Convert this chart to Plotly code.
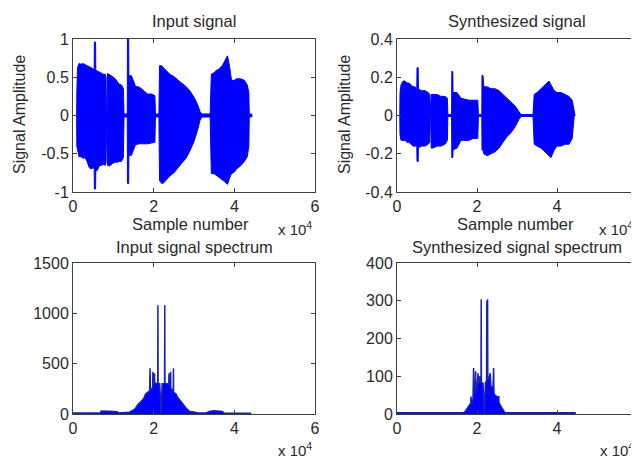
import plotly.graph_objects as go

# ---------------- data ----------------
# Input signal: envelope of the waveform (sample index, upper, lower)
in_x = [0, 900, 950, 1100, 1500, 2000, 2500, 3000, 3500, 4000, 4500, 5000, 5250, 5300, 5600, 5650,
        6000, 6500, 7000, 7500, 8000, 8200, 8300, 8450, 8550, 9000, 9500, 10000, 10500, 11000,
        11500, 12000, 12500, 12650, 13450, 13500, 13800, 13850, 14500, 15000, 15500, 16500, 17500,
        18500, 19500, 20300, 20450, 21300, 21450, 22000, 22500, 23000, 24000, 25000, 26000,
        27000, 28000, 29000, 30000, 31000, 31500, 32000, 34000, 34300, 35000, 35500, 36000,
        37000, 37500, 38300, 38800, 39300, 40000, 40500, 41500, 42500, 43200, 43600, 43700,
        44300, 44400]
in_upper = [0, 0, 0.28, 0.62, 0.68, 0.67, 0.68, 0.66, 0.65, 0.64, 0.62, 0.60, 0.60, 0.96, 0.96, 0.60,
            0.58, 0.57, 0.55, 0.54, 0.54, 0.50, 0.02, 0.02, 0.55, 0.54, 0.52, 0.50, 0.48, 0.44,
            0.41, 0.40, 0.35, 0.02, 0.02, 1.00, 1.00, 0.52, 0.52, 0.45, 0.38, 0.37, 0.33,
            0.28, 0.28, 0.26, 0.02, 0.02, 0.65, 0.65, 0.62, 0.59, 0.54, 0.51, 0.46,
            0.42, 0.38, 0.32, 0.24, 0.13, 0.05, 0.02, 0.02, 0.54, 0.56, 0.59, 0.60,
            0.65, 0.70, 0.78, 0.65, 0.46, 0.46, 0.48, 0.48, 0.46, 0.40, 0.30, 0.02,
            0.02, 0]
in_lower = [0, 0, -0.40, -0.46, -0.54, -0.54, -0.56, -0.55, -0.60, -0.68, -0.70, -0.68, -0.70, -0.96, -0.96, -0.72,
            -0.72, -0.66, -0.65, -0.64, -0.65, -0.60, -0.02, -0.02, -0.65, -0.66, -0.64, -0.62, -0.61, -0.61,
            -0.60, -0.60, -0.55, -0.02, -0.02, -0.89, -0.89, -0.52, -0.52, -0.45, -0.38, -0.37, -0.37,
            -0.37, -0.36, -0.35, -0.02, -0.02, -0.85, -0.89, -0.88, -0.85, -0.79, -0.75, -0.69,
            -0.62, -0.56, -0.46, -0.34, -0.17, -0.06, -0.02, -0.02, -0.76, -0.76, -0.78, -0.80,
            -0.84, -0.86, -0.90, -0.82, -0.76, -0.74, -0.70, -0.66, -0.60, -0.54, -0.40, -0.02,
            -0.02, 0]

# Synthesized signal: envelope of the waveform
syn_x = [0, 700, 750, 1000, 1500, 2000, 2500, 3000, 3500, 4000, 4500, 4950, 5000, 5300, 5350, 6000,
         7000, 7800, 8200, 8300, 8450, 8550, 9000, 10000, 11000, 12000, 12600, 12700, 13650,
         13700, 13950, 14000, 15000, 16000, 17000, 18000, 19000, 20200, 20350, 21200, 21250, 21500, 21700,
         22500, 23500, 24500, 25500, 26500, 27500, 28500, 29500, 30500, 31000, 34000, 34300,
         35000, 36000, 37000, 38000, 38500, 39300, 40000, 41000, 42000, 43000, 43800, 44300, 44500]
syn_upper = [0, 0, 0.12, 0.16, 0.18, 0.18, 0.17, 0.17, 0.16, 0.15, 0.15, 0.14, 0.25, 0.25, 0.14, 0.13,
             0.13, 0.12, 0.11, 0.005, 0.005, 0.11, 0.11, 0.11, 0.10, 0.10, 0.09, 0.005, 0.005,
             0.23, 0.23, 0.12, 0.12, 0.09, 0.085, 0.08, 0.08, 0.08, 0.005, 0.005, 0.21, 0.21, 0.15,
             0.15, 0.14, 0.14, 0.13, 0.11, 0.09, 0.07, 0.05, 0.02, 0.005, 0.005, 0.11,
             0.12, 0.14, 0.16, 0.18, 0.16, 0.13, 0.12, 0.12, 0.11, 0.10, 0.08, 0.005, 0]
syn_lower = [0, 0, -0.10, -0.13, -0.13, -0.13, -0.14, -0.14, -0.15, -0.16, -0.16, -0.16, -0.24, -0.24, -0.17, -0.16,
             -0.16, -0.15, -0.14, -0.005, -0.005, -0.17, -0.17, -0.16, -0.16, -0.15, -0.13, -0.005, -0.005,
             -0.22, -0.22, -0.18, -0.17, -0.13, -0.13, -0.13, -0.12, -0.12, -0.005, -0.005, -0.18, -0.18, -0.20,
             -0.21, -0.20, -0.19, -0.17, -0.14, -0.11, -0.09, -0.06, -0.02, -0.005, -0.005, -0.15,
             -0.16, -0.17, -0.19, -0.21, -0.22, -0.18, -0.16, -0.16, -0.15, -0.15, -0.12, -0.005, 0]

# Input signal spectrum
in_spec_x = [0, 6800, 7000, 8000, 9000, 10000, 11000, 11200, 13000, 14000, 15000, 15500, 16000,
             16500, 17000, 17500, 18000, 18500, 19000, 19100, 19200, 19500, 19750, 19800, 19850,
             20000, 20150, 20200, 20250, 20500, 21000, 21050, 21100, 21500, 21750, 21850, 22100,
             22700, 22750, 22800, 23300, 23750, 23800, 23850, 24150, 24200, 24250, 24500, 24850,
             24900, 24950, 25500, 26000, 26500, 27000, 27500, 28000, 28500, 29000, 30000, 31000,
             33000, 34000, 35000, 36000, 37000, 37500, 44000, 44100]
in_spec_y = [10, 10, 30, 32, 28, 25, 22, 10, 12, 18, 40, 56, 90,
             110, 140, 150, 200, 215, 230, 455, 235, 250, 260, 420, 290,
             300, 300, 405, 300, 305, 305, 1080, 300, 300, 0, 0, 300,
             300, 1080, 305, 300, 300, 405, 300, 290, 420, 260, 240, 230,
             455, 215, 200, 160, 140, 110, 80, 60, 40, 25, 20, 10,
             10, 28, 32, 30, 25, 10, 8, 0]

# Synthesized signal spectrum
syn_spec_x = [0, 16500, 17000, 17500, 18000, 18400, 18500, 18600, 19000, 19150, 19250, 19500,
              19650, 19750, 20000, 20250, 20400, 20650, 20750, 21000, 21050, 21100, 21500, 21750,
              21850, 22100, 22400, 22450, 22550, 22650, 22700, 23000, 23300, 23500, 24000, 24150,
              24250, 24500, 25000, 25450, 25500, 26000, 26500, 27000, 44500, 44600]
syn_spec_y = [3, 3, 6, 15, 24, 28, 46, 28, 40, 122, 55, 58,
              113, 64, 66, 108, 80, 100, 85, 85, 304, 82, 82, 0,
              0, 82, 90, 300, 90, 304, 91, 95, 108, 73, 70, 122,
              55, 50, 46, 46, 30, 20, 10, 3, 3, 0]

x_ticks = [0, 20000, 40000, 60000]
x_tick_text = ["0", "2", "4", "6"]
in_y_ticks = [-1, -0.5, 0, 0.5, 1]
in_y_text = ["-1", "-0.5", "0", "0.5", "1"]
syn_y_ticks = [-0.4, -0.2, 0, 0.2, 0.4]
syn_y_text = ["-0.4", "-0.2", "0", "0.2", "0.4"]
in_spec_ticks = [0, 500, 1000, 1500]
syn_spec_ticks = [0, 100, 200, 300, 400]

titles = ["Input signal", "Synthesized signal", "Input signal spectrum", "Synthesized signal spectrum"]
x_label = "Sample number"
y_label = "Signal Amplitude"
x_scale_label = "x 10<sup>4</sup>"

# ---------------- figure ----------------
OFF = 8                      # page body margin of the browser
W, H = 639 - OFF, 459 - OFF
BLUE = "rgb(0,0,255)"
SPEC_LINE = "rgb(25,35,175)"
FONT = "Liberation Sans, Arial, sans-serif"
TXT = "#2a2a2a"

fig = go.Figure()


def envelope(x, up, lo, xa, ya):
    fig.add_trace(go.Scatter(
        x=list(x) + list(reversed(x)), y=list(up) + list(reversed(lo)),
        mode="lines", fill="toself", fillcolor=BLUE,
        line=dict(color=BLUE, width=1), xaxis=xa, yaxis=ya, hoverinfo="skip"))


def spectrum(x, y, xa, ya):
    fig.add_trace(go.Scatter(
        x=x, y=y, mode="lines", fill="tozeroy", fillcolor=BLUE,
        line=dict(color=SPEC_LINE, width=1.5), xaxis=xa, yaxis=ya, hoverinfo="skip"))


envelope(in_x, in_upper, in_lower, "x", "y")
envelope(syn_x, syn_upper, syn_lower, "x2", "y2")
spectrum(in_spec_x, in_spec_y, "x3", "y3")
spectrum(syn_spec_x, syn_spec_y, "x4", "y4")

# domains in window pixels
left_x = (73, 315)
right_x = (397, 637)
top_y = (39, 192)
bot_y = (263, 414)


def dx(p):
    return [(p[0] - OFF) / W, (p[1] - OFF) / W]


def dy(p):
    return [1 - (p[1] - OFF) / H, 1 - (p[0] - OFF) / H]


axis_common = dict(
    showline=True, linecolor="#404040", linewidth=1, mirror="allticks",
    ticks="inside", ticklen=4, tickcolor="#404040", showgrid=False, zeroline=False,
    tickfont=dict(family=FONT, size=16, color=TXT), automargin=False, fixedrange=True)


def xaxis(dom, anchor):
    return dict(axis_common, domain=dx(dom), anchor=anchor, range=[0, 60000],
                tickmode="array", tickvals=x_ticks, ticktext=x_tick_text)


def yaxis(dom, anchor, rng, vals, text=None):
    d = dict(axis_common, domain=dy(dom), anchor=anchor, range=rng,
             tickmode="array", tickvals=vals)
    if text is not None:
        d["ticktext"] = text
    return d


fig.update_layout(
    width=W, height=H, margin=dict(l=0, r=0, t=0, b=0),
    paper_bgcolor="white", plot_bgcolor="white", showlegend=False,
    xaxis=xaxis(left_x, "y"), yaxis=yaxis(top_y, "x", [-1, 1], in_y_ticks, in_y_text),
    xaxis2=xaxis(right_x, "y2"), yaxis2=yaxis(top_y, "x2", [-0.4, 0.4], syn_y_ticks, syn_y_text),
    xaxis3=xaxis(left_x, "y3"), yaxis3=yaxis(bot_y, "x3", [0, 1500], in_spec_ticks),
    xaxis4=xaxis(right_x, "y4"), yaxis4=yaxis(bot_y, "x4", [0, 400], syn_spec_ticks),
)


def note(text, xp, yp, xanchor="center", angle=0, size=16.5):
    fig.add_annotation(text=text, x=(xp - OFF) / W, y=1 - (yp - OFF) / H, xref="paper", yref="paper",
                       xanchor=xanchor, yanchor="middle", showarrow=False, textangle=angle,
                       font=dict(family=FONT, size=size, color=TXT))


note(titles[0], 194, 21, size=16.5)
note(titles[1], 517, 21, size=16.5)
note(titles[2], 194, 247, size=16.5)
note(titles[3], 517, 247, size=16.5)
note(x_label, 191, 224)
note(x_label, 515, 224)
note(y_label, 19, 115, angle=-90, size=16)
note(y_label, 344, 115, angle=-90, size=16)
for xp, yp in [(276, 228), (597, 228), (276, 449), (598, 449)]:
    note(x_scale_label, xp, yp, xanchor="left", size=15)

fig.write_html("out.html")
